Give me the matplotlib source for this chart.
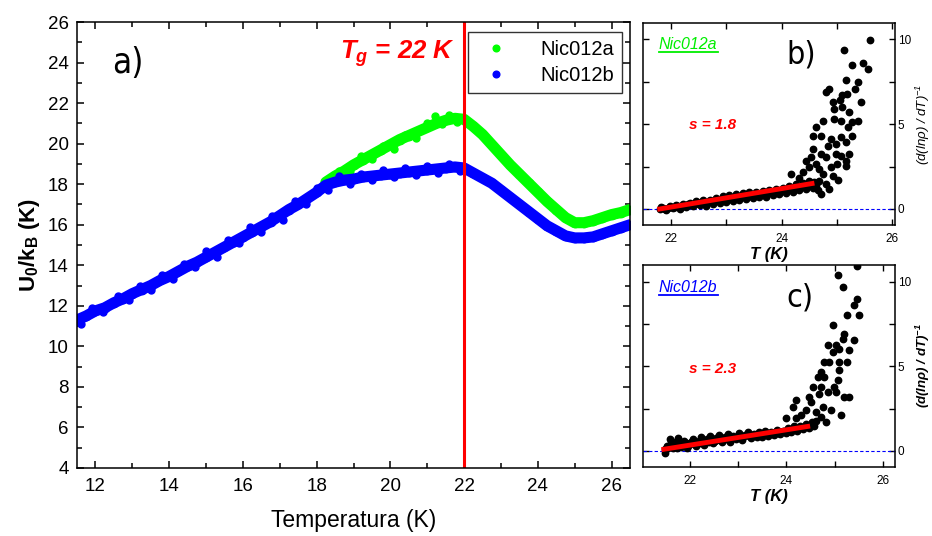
import numpy as np
import matplotlib
matplotlib.use('Agg')
import matplotlib.pyplot as plt
from matplotlib.ticker import MultipleLocator

plt.rcParams['font.family'] = ['Liberation Sans', 'DejaVu Sans']
plt.rcParams['mathtext.default'] = 'regular'

# --- painel a) : U0/kB x T
T_b = [11.5, 11.75, 12.0, 12.25, 12.5, 12.75, 13.0, 13.25, 13.5, 13.75, 14.0, 14.25,
       14.5, 14.75, 15.0, 15.25, 15.5, 15.75, 16.0, 16.25, 16.5, 16.75, 17.0, 17.25,
       17.5, 17.75, 18.0, 18.25, 18.5, 18.75, 19.0, 19.25, 19.5, 19.75, 20.0, 20.25,
       20.5, 20.75, 21.0, 21.25, 21.5, 21.75, 22.0, 22.25, 22.5, 22.75, 23.0, 23.25,
       23.5, 23.75, 24.0, 24.25, 24.5, 24.75, 25.0, 25.25, 25.5, 25.75, 26.0, 26.25, 26.5]
U_b = [11.3, 11.5, 11.75, 11.9, 12.15, 12.35, 12.6, 12.8, 13.0, 13.25, 13.45, 13.7,
       13.95, 14.15, 14.4, 14.65, 14.9, 15.15, 15.4, 15.65, 15.9, 16.15, 16.45, 16.75,
       17.0, 17.3, 17.6, 17.95, 18.1, 18.2, 18.25, 18.35, 18.4, 18.45, 18.5, 18.55,
       18.6, 18.65, 18.7, 18.75, 18.8, 18.85, 18.8, 18.55, 18.3, 18.05, 17.7, 17.35,
       17.0, 16.65, 16.3, 15.95, 15.7, 15.45, 15.35, 15.35, 15.4, 15.55, 15.7, 15.85, 16.0]
# pontos dispersos (borda irregular da faixa)
Tn_b = [11.6, 11.9, 12.2, 12.6, 12.9, 13.2, 13.5, 13.8, 14.1, 14.4, 14.7, 15.0, 15.3,
        15.6, 15.9, 16.2, 16.5, 16.8, 17.1, 17.4, 17.7, 18.0, 18.3, 18.6, 18.9, 19.2,
        19.5, 19.8, 20.1, 20.4, 20.7, 21.0, 21.3, 21.6, 21.9]
Un_b = [11.1, 11.9, 11.7, 12.5, 12.3, 13.0, 12.8, 13.5, 13.3, 14.05, 13.9,
        14.7, 14.4, 15.25, 15.1, 15.9, 15.65, 16.45, 16.25, 17.15, 17.0, 17.8, 17.7,
        18.4, 18.0, 18.5, 18.2, 18.7, 18.35, 18.8, 18.45, 18.9, 18.55, 19.0, 18.65]

T_a = [18.25, 18.5, 18.75, 19.0, 19.25, 19.5, 19.75, 20.0, 20.25, 20.5, 20.75, 21.0,
       21.25, 21.5, 21.75, 22.0, 22.25, 22.5, 22.75, 23.0, 23.25, 23.5, 23.75, 24.0,
       24.25, 24.5, 24.75, 25.0, 25.25, 25.5, 25.75, 26.0, 26.25, 26.5]
U_a = [18.1, 18.4, 18.65, 18.95, 19.2, 19.45, 19.7, 19.95, 20.2, 20.4, 20.6, 20.8,
       21.0, 21.15, 21.25, 21.2, 20.85, 20.45, 19.95, 19.45, 18.95, 18.5, 18.05, 17.6,
       17.15, 16.75, 16.35, 16.1, 16.1, 16.2, 16.35, 16.5, 16.6, 16.75]
Tn_a = [18.6, 18.9, 19.2, 19.5, 19.8, 20.1, 20.4, 20.7, 21.0, 21.2, 21.4, 21.6, 21.8]
Un_a = [18.65, 18.65, 19.4, 19.25, 19.9, 19.75, 20.45, 20.3, 21.0, 21.35, 20.95, 21.4, 21.05]

Tg = 22

# --- painel b) : Nic012a
b_T = [21.80, 21.86, 21.92, 21.98, 22.04, 22.10, 22.16, 22.22, 22.28, 22.34, 22.40, 22.46,
       22.52, 22.58, 22.64, 22.70, 22.76, 22.82, 22.88, 22.94, 23.00, 23.06, 23.12, 23.18,
       23.24, 23.30, 23.36, 23.42, 23.48, 23.54, 23.60, 23.66, 23.72, 23.78, 23.84, 23.90,
       23.96, 24.02, 24.08, 24.14, 24.20, 24.26, 24.32, 24.38, 24.44, 24.50, 24.56,
       21.83, 21.89, 21.95, 22.01, 22.07, 22.13, 22.19, 22.25, 22.31, 22.37, 22.43, 22.49,
       22.55, 22.61, 22.67, 22.73, 22.79, 22.85, 22.91, 22.97, 23.03, 23.09, 23.15, 23.21,
       23.27, 23.33, 23.39, 23.45, 23.51, 23.57, 23.63, 23.69, 23.75, 23.81, 23.87, 23.93,
       23.99, 24.05, 24.11, 24.17, 24.23, 24.29, 24.35, 24.41, 24.47, 24.53, 24.59, 24.62,
       25.59, 25.12, 25.47, 25.56, 25.27, 25.17, 25.38, 25.32, 24.86, 24.80, 25.10, 25.19,
       25.05, 25.44, 24.92, 24.95, 25.10, 25.22, 24.75, 24.95, 25.07, 25.28, 25.38, 24.63,
       25.20, 24.57, 24.72, 24.90, 25.07, 25.28, 24.83, 24.98, 25.17, 24.57, 24.72, 24.98,
       25.07, 25.22, 24.44, 24.53, 24.80, 25.17, 25.00, 24.63, 24.50, 24.68, 24.90, 25.17,
       24.38, 24.75, 24.92, 24.17, 24.32, 24.68, 24.80, 24.59, 24.72, 24.65, 24.85, 25.02]
b_v = [0.00, 0.08, -0.04, 0.15, 0.05, 0.22, 0.02, 0.30, 0.12, 0.38, 0.18, 0.45,
       0.25, 0.55, 0.20, 0.50, 0.32, 0.65, 0.35, 0.75, 0.42, 0.80, 0.45, 0.88,
       0.52, 0.92, 0.58, 0.98, 0.62, 1.02, 0.70, 1.05, 0.72, 1.10, 0.80, 1.15,
       0.88, 1.25, 0.95, 1.35, 1.00, 1.45, 1.10, 1.55, 1.18, 1.62, 1.25,
       0.10, 0.02, 0.06, 0.12, 0.10, 0.16, 0.20, 0.18, 0.28, 0.25, 0.32, 0.36,
       0.40, 0.38, 0.42, 0.48, 0.45, 0.52, 0.58, 0.55, 0.62, 0.60, 0.68, 0.72,
       0.70, 0.78, 0.80, 0.78, 0.85, 0.88, 0.86, 0.92, 0.95, 0.98, 1.00, 1.05,
       1.08, 1.12, 1.15, 1.22, 1.28, 1.30, 1.35, 1.42, 1.45, 1.52, 1.60, 1.40,
       9.94, 9.35, 8.60, 8.27, 8.50, 7.57, 7.47, 7.08, 7.08, 6.88, 6.69, 6.75,
       6.39, 6.29, 6.29, 5.90, 5.99, 5.70, 5.20, 5.30, 5.20, 5.10, 5.20, 4.81,
       4.81, 4.32, 4.32, 4.12, 4.22, 4.32, 3.73, 3.83, 3.92, 3.53, 3.24, 3.24,
       3.14, 3.24, 2.84, 3.04, 3.04, 2.84, 2.64, 2.64, 2.45, 2.35, 2.45, 2.55,
       2.15, 2.05, 1.95, 2.05, 1.85, 1.66, 1.46, 1.36, 0.87, 1.10, 1.20, 1.70]
b_fit_T = [21.8, 24.55]
b_fit_v = [0.0, 1.5]

# --- painel c) : Nic012b
c_T = [21.48, 21.48, 21.52, 21.58, 21.64, 21.70, 21.76, 21.82, 21.88, 21.94, 22.00, 22.06,
       22.12, 22.18, 22.24, 22.30, 22.36, 22.42, 22.48, 22.54, 22.60, 22.66, 22.72, 22.78,
       22.84, 22.90, 22.96, 23.02, 23.08, 23.14, 23.20, 23.26, 23.32, 23.38, 23.44, 23.50,
       23.56, 23.62, 23.68, 23.74, 23.80, 23.86, 23.92, 23.98, 24.04, 24.10, 24.16, 24.22,
       24.28, 24.34, 24.40, 24.46, 24.52, 24.58,
       21.55, 21.61, 21.67, 21.73, 21.79, 21.85, 21.91, 21.97, 22.03, 22.09, 22.15, 22.21,
       22.27, 22.33, 22.39, 22.45, 22.51, 22.57, 22.63, 22.69, 22.75, 22.81, 22.87, 22.93,
       22.99, 23.05, 23.11, 23.17, 23.23, 23.29, 23.35, 23.41, 23.47, 23.53, 23.59, 23.65,
       23.71, 23.77, 23.83, 23.89, 23.95, 24.01, 24.07, 24.13, 24.19, 24.25, 24.31, 24.37,
       24.43, 24.49, 24.55, 24.61,
       25.47, 25.06, 25.18, 25.47, 25.40, 25.50, 25.26, 24.96, 25.20, 25.18, 25.40, 24.85,
       25.02, 25.09, 25.30, 24.96, 24.78, 24.89, 25.09, 25.26, 24.72, 25.09, 24.65, 24.78,
       25.06, 24.54, 24.72, 24.99, 24.68, 24.85, 25.02, 25.30, 25.20, 24.47, 24.20, 24.51,
       24.13, 24.75, 24.92, 24.61, 24.41, 25.13, 24.72, 24.31, 24.82, 24.54, 24.20, 23.99]
c_v = [0.10, -0.15, 0.30, 0.70, 0.20, 0.55, 0.75, 0.25, 0.60, 0.15, 0.45, 0.70,
       0.30, 0.60, 0.80, 0.35, 0.70, 0.90, 0.45, 0.75, 0.95, 0.50, 0.85, 1.00,
       0.55, 0.90, 0.70, 1.05, 0.65, 0.95, 1.10, 0.75, 1.00, 0.80, 1.15, 0.85,
       1.20, 0.90, 1.10, 0.95, 1.25, 1.00, 1.20, 1.05, 1.35, 1.15, 1.45, 1.20,
       1.50, 1.30, 1.60, 1.35, 1.70, 1.45,
       0.15, 0.45, 0.30, 0.20, 0.50, 0.35, 0.45, 0.30, 0.55, 0.40, 0.50, 0.45,
       0.60, 0.50, 0.55, 0.65, 0.60, 0.70, 0.65, 0.72, 0.70, 0.80, 0.75, 0.85,
       0.80, 0.88, 0.85, 0.92, 0.90, 0.95, 0.92, 1.00, 0.98, 1.02, 1.05, 1.02,
       1.08, 1.10, 1.08, 1.12, 1.18, 1.15, 1.22, 1.28, 1.30, 1.35, 1.42, 1.40,
       1.48, 1.55, 1.60, 1.75,
       10.95, 10.40, 9.70, 9.00, 8.62, 8.03, 8.03, 7.43, 6.94, 6.65, 6.55, 6.25,
       6.25, 6.02, 5.96, 5.86, 5.27, 5.27, 5.27, 5.27, 4.67, 4.77, 4.38, 4.38,
       4.18, 3.79, 3.79, 3.79, 3.39, 3.49, 3.49, 3.20, 3.20, 3.20, 3.00, 2.90,
       2.60, 2.60, 2.41, 2.30, 2.41, 2.11, 2.01, 2.11, 1.72, 1.62, 1.92, 1.92]
c_fit_T = [21.46, 24.44]
c_fit_v = [0.1, 1.45]

fig = plt.figure(figsize=(9.32, 5.36), dpi=100)
letra_fonte = dict(family='DejaVu Sans', fontstretch='condensed')

# ---------- a)
ax = fig.add_axes([0.0826, 0.1269, 0.5934, 0.832])
ax.plot(T_a, U_a, '-', color='#00ff00', lw=8, solid_capstyle='round')
ax.plot(Tn_a, Un_a, 'o', color='#00ff00', ms=5, ls='none')
ax.plot(T_a, U_a, 'o', color='#00ff00', ms=6, ls='none', label='Nic012a')
ax.plot(T_b, U_b, '-', color='#0000ff', lw=8, solid_capstyle='round')
ax.plot(Tn_b, Un_b, 'o', color='#0000ff', ms=5, ls='none')
ax.plot(T_b, U_b, 'o', color='#0000ff', ms=6, ls='none', label='Nic012b')
ax.axvline(Tg, color='red', lw=2.2)
ax.set_xlim(11.5, 26.5)
ax.set_ylim(4, 26)
ax.xaxis.set_major_locator(MultipleLocator(2))
ax.xaxis.set_minor_locator(MultipleLocator(1))
ax.yaxis.set_major_locator(MultipleLocator(2))
ax.yaxis.set_minor_locator(MultipleLocator(1))
ax.tick_params(which='both', direction='in', top=True, right=True, width=1.1)
ax.tick_params(which='major', length=5, labelsize=13.5)
ax.tick_params(axis='x', which='major', pad=7)
ax.tick_params(axis='y', which='major', pad=6)
ax.tick_params(which='minor', length=3.5)
for s in ax.spines.values():
    s.set_linewidth(1.1)
ax.set_xlabel('Temperatura (K)', fontsize=16.5, labelpad=10)
ax.set_ylabel('U$_0$/k$_B$ (K)', fontsize=16, fontweight='bold', labelpad=4)
leg = ax.legend(loc='upper right', bbox_to_anchor=(0.9855, 0.9776), borderaxespad=0,
                fancybox=False, edgecolor='black', fontsize=14.5, markerscale=0.8,
                handletextpad=1.2, borderpad=0.4, labelspacing=0.35)
leg.get_frame().set_linewidth(1.0)
ax.text(0.063, 0.886, 'a)', transform=ax.transAxes, fontsize=25, **letra_fonte)
ax.text(0.684, 0.917, 'T$_g$ = 22 K', transform=ax.transAxes, ha='right', va='baseline',
        color='red', fontsize=18.5, fontweight='bold', fontstyle='italic')


# ---------- b) and c)
def painel(rect, T, v, fT, fv, xlim, ylim, nome, cor, letra, ly, s_txt, sy, label_bold):
    a = fig.add_axes(rect)
    a.axhline(0, color='#0000ff', lw=0.8, ls=(0, (3, 2)))
    a.plot(T, v, 'o', color='black', ms=4.6, ls='none')
    a.plot(fT, fv, '-', color='red', lw=3.5)
    a.set_xlim(*xlim)
    a.set_ylim(*ylim)
    a.xaxis.set_major_locator(MultipleLocator(2))
    a.xaxis.set_minor_locator(MultipleLocator(1))
    a.yaxis.set_major_locator(MultipleLocator(5))
    a.yaxis.set_minor_locator(MultipleLocator(2.5))
    a.tick_params(which='both', direction='in', top=True, right=True, left=True,
                  labelleft=False, labelright=True, length=4, width=1.0, labelsize=8.5)
    a.tick_params(axis='x', pad=6)
    a.tick_params(axis='y', pad=2)
    for s in a.spines.values():
        s.set_linewidth(1.1)
    a.set_xlabel('T (K)', fontsize=12, fontweight='bold', fontstyle='italic', labelpad=1)
    a.yaxis.set_label_position('right')
    a.set_ylabel('(d(lnρ) / dT)$^{-1}$', fontsize=9.5, fontstyle='italic',
                 fontweight='bold' if label_bold else 'normal', labelpad=2)
    a.text(0.063, ly, nome, transform=a.transAxes, color=cor, fontsize=11.5,
           fontstyle='italic')
    a.plot([0.063, 0.296], [ly - 0.015, ly - 0.015], color=cor, lw=1.3,
           transform=a.transAxes, clip_on=False)
    a.text(0.57, ly - 0.07, letra, transform=a.transAxes, fontsize=23, **letra_fonte)
    a.text(0.184, sy, s_txt, transform=a.transAxes, color='red', fontsize=11,
           fontweight='bold', fontstyle='italic')
    return a


painel([0.690, 0.580, 0.2704, 0.377], b_T, b_v, b_fit_T, b_fit_v, (21.5, 26.05),
       (-0.95, 10.95), 'Nic012a', '#00ee00', 'b)', 0.87, 's = 1.8', 0.475, False)
painel([0.690, 0.1287, 0.2704, 0.377], c_T, c_v, c_fit_T, c_fit_v, (21.03, 26.25),
       (-0.95, 11.0), 'Nic012b', '#0000ff', 'c)', 0.865, 's = 2.3', 0.467, True)

fig.savefig('out.png', dpi=100)
